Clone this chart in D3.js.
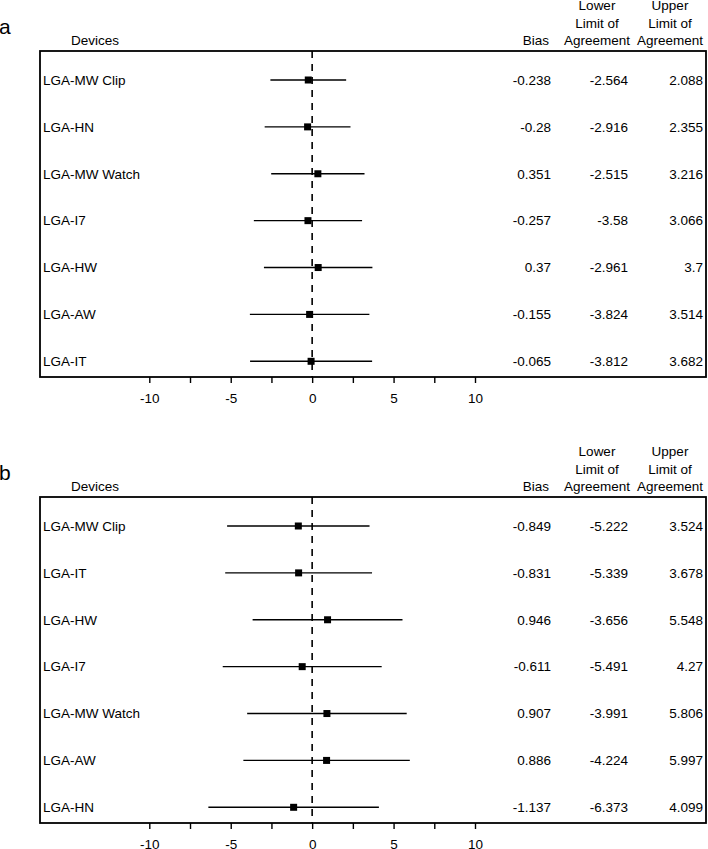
<!DOCTYPE html>
<html>
<head>
<meta charset="utf-8">
<script src="https://cdn.jsdelivr.net/npm/d3@7/dist/d3.min.js"></script>
<style>
    html, body { margin: 0; padding: 0; background: #fff; }
    svg { display: block; font-family: "Liberation Sans", Arial, sans-serif; }
</style>
</head>
<body>
<svg id="chart" width="708" height="849"></svg>
<script>
// 面板 a
var devicesA = ['LGA-MW Clip', 'LGA-HN', 'LGA-MW Watch', 'LGA-I7', 'LGA-HW', 'LGA-AW', 'LGA-IT'];
var biasA = [-0.238, -0.28, 0.351, -0.257, 0.37, -0.155, -0.065];
var lowerA = [-2.564, -2.916, -2.515, -3.58, -2.961, -3.824, -3.812];
var upperA = [2.088, 2.355, 3.216, 3.066, 3.7, 3.514, 3.682];

// 面板 b
var devicesB = ['LGA-MW Clip', 'LGA-IT', 'LGA-HW', 'LGA-I7', 'LGA-MW Watch', 'LGA-AW', 'LGA-HN'];
var biasB = [-0.849, -0.831, 0.946, -0.611, 0.907, 0.886, -1.137];
var lowerB = [-5.222, -5.339, -3.656, -5.491, -3.991, -4.224, -6.373];
var upperB = [3.524, 3.678, 5.548, 4.27, 5.806, 5.997, 4.099];

// 坐标轴刻度
var tickValues = [-10, -7.5, -5, -2.5, 0, 2.5, 5, 7.5, 10];
var tickLabels = ['-10', '', '-5', '', '0', '', '5', '', '10'];

var svg = d3.select('#chart');

var boxLeft = 40, boxRight = 706, boxH = 326;
var x = d3.scaleLinear().domain([-10, 10]).range([149.3, 475]);

function fmt(v) { return String(v); }

function drawPanel(top, letter, devices, bias, lower, upper) {
    var g = svg.append('g').attr('transform', 'translate(0,' + top + ')');

    var y = d3.scalePoint().domain(devices).range([29, 310.3]);

    // 字母
    g.append('text').attr('x', -1).attr('y', -17).attr('font-size', '21px').text(letter);

    // 表头
    g.append('text').attr('x', 71).attr('y', -6).attr('font-size', '13.5px').text('Devices');
    g.append('text').attr('x', 549).attr('y', -6).attr('font-size', '13.5px')
        .attr('text-anchor', 'end').text('Bias');
    [['Lower', 'Limit of', 'Agreement', 597], ['Upper', 'Limit of', 'Agreement', 670]].forEach(function(h) {
        [0, 1, 2].forEach(function(k) {
            g.append('text').attr('x', h[3]).attr('y', -41 + k * 17.5)
                .attr('font-size', '13.5px').attr('text-anchor', 'middle').text(h[k]);
        });
    });

    // 边框
    g.append('rect').attr('x', boxLeft).attr('y', 0)
        .attr('width', boxRight - boxLeft).attr('height', boxH)
        .attr('fill', 'none').attr('stroke', '#000').attr('stroke-width', 1.8);

    // 零线
    g.append('line').attr('x1', x(0)).attr('x2', x(0)).attr('y1', 0).attr('y2', boxH)
        .attr('stroke', '#000').attr('stroke-width', 1.6).attr('stroke-dasharray', '7,6');

    var rows = devices.map(function(d, i) {
        return {name: d, bias: bias[i], lo: lower[i], hi: upper[i]};
    });

    var row = g.append('g').selectAll('g').data(rows).enter().append('g')
        .attr('transform', function(d) { return 'translate(0,' + y(d.name) + ')'; });

    row.append('text').attr('x', 43).attr('dy', '0.35em').attr('font-size', '13.5px')
        .text(function(d) { return d.name; });

    row.append('line')
        .attr('x1', function(d) { return x(d.lo); })
        .attr('x2', function(d) { return x(d.hi); })
        .attr('stroke', '#000').attr('stroke-width', 1.4);

    row.append('rect')
        .attr('x', function(d) { return x(d.bias) - 3.5; })
        .attr('y', -3.5).attr('width', 7).attr('height', 7).attr('fill', '#000');

    row.append('text').attr('x', 551).attr('dy', '0.35em').attr('font-size', '13.5px')
        .attr('text-anchor', 'end').text(function(d) { return fmt(d.bias); });
    row.append('text').attr('x', 628).attr('dy', '0.35em').attr('font-size', '13.5px')
        .attr('text-anchor', 'end').text(function(d) { return fmt(d.lo); });
    row.append('text').attr('x', 703).attr('dy', '0.35em').attr('font-size', '13.5px')
        .attr('text-anchor', 'end').text(function(d) { return fmt(d.hi); });

    // x 轴
    var axis = d3.axisBottom(x).tickValues(tickValues).tickSize(6).tickPadding(10)
        .tickFormat(function(d, i) { return tickLabels[i]; });
    var ax = g.append('g').attr('transform', 'translate(0,' + boxH + ')').call(axis);
    ax.select('.domain').remove();
    ax.selectAll('line').attr('stroke', '#000').attr('stroke-width', 1.4);
    ax.selectAll('text').attr('font-size', '13.5px').attr('fill', '#000')
        .attr('font-family', '"Liberation Sans", Arial, sans-serif');
}

drawPanel(51, 'a', devicesA, biasA, lowerA, upperA);
drawPanel(497, 'b', devicesB, biasB, lowerB, upperB);
</script>
</body>
</html>
